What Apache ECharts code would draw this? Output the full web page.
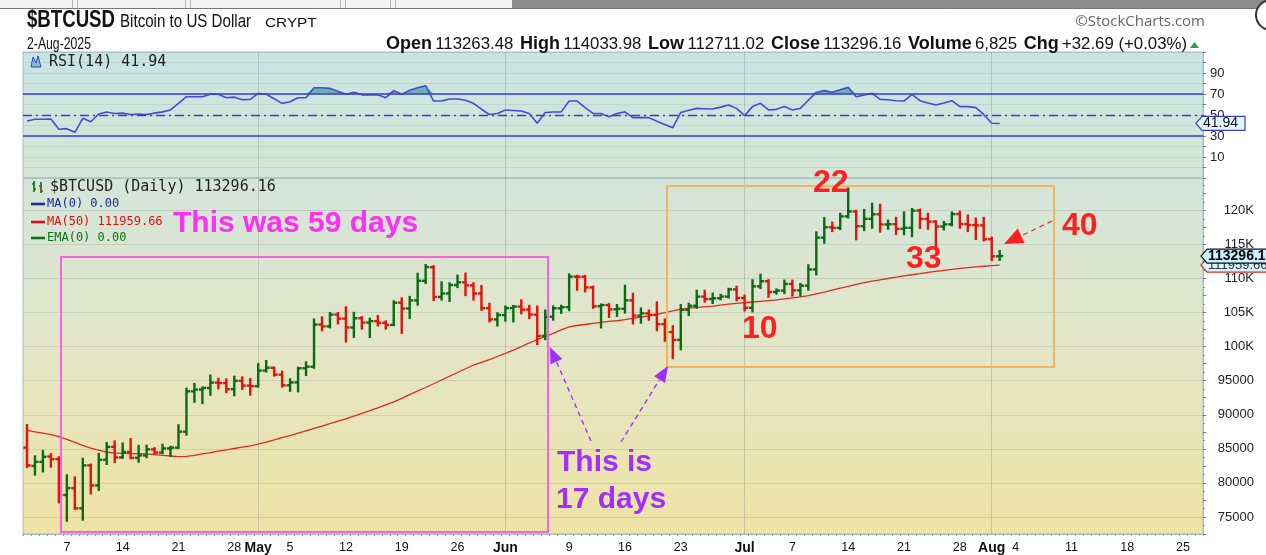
<!DOCTYPE html>
<html><head><meta charset="utf-8">
<script src="https://cdn.jsdelivr.net/npm/echarts@6/dist/echarts.min.js"></script>
<style>html,body{margin:0;padding:0;background:#fff;overflow:hidden}#c{width:1266px;height:555px;}</style>
</head><body><div id="c"></div>
<script>
// ---------------- DATA ----------------
const startDate = '2025-04-02';
const totalDays = 148; // axis runs to 27-Aug

const opens = [
  // Apr 2-30
  85180,82490,83100,83860,83500,78220,79220,76270,82570,79630,
  83400,85290,83740,84540,83670,84030,84920,84450,85060,85170,
  87520,93440,93700,93940,94720,94650,93750,94980,94280,
  // May
  94200,96490,96900,95890,94320,94750,96830,97050,103240,102970,
  104700,104110,102810,104170,103540,103740,103490,103190,106450,105600,
  106790,109670,111670,107290,107800,109040,109440,108990,107800,105640,
  103990,
  // Jun
  104640,105650,105880,105430,104700,101580,104390,105620,105790,110270,
  110260,108690,105930,106100,105470,105550,106790,104550,104880,104660,
  103300,102140,100990,105390,106000,107340,106980,107100,107350,108400,
  // Jul
  107140,105700,108850,109600,108030,108230,109200,108260,108950,111330,
  115990,117520,117430,119120,119840,117680,118760,119420,117930,117970,
  117300,117440,119960,118750,118350,117630,117950,119450,118000,117850,
  117800,
  // Aug
  115760,113263.48
];
const highs = [
  88500,83910,84700,84220,83760,81120,80820,83540,82700,84250,
  85860,86100,85790,86430,85430,85460,85100,85600,85300,88460,
  93830,94530,94000,95760,95300,95200,95600,95500,95230,
  97440,97900,96930,96340,95200,96900,97700,103980,104300,104950,
  104950,105780,104960,104340,104100,104500,103700,106650,107100,107300,
  110700,111980,111800,109440,109300,110420,110720,109300,108900,106300,
  104900,
  105880,105970,106800,105990,105900,105300,105900,106000,110600,110400,
  110390,108800,106200,106250,106100,108950,107750,105600,105300,106500,
  104000,103000,106100,106300,108200,108200,107800,107600,108500,108800,
  107500,109750,110550,109760,108400,109700,109700,109200,111950,116780,
  118870,118200,119500,123200,119950,120060,120980,120830,118500,118900,
  119700,120200,120100,119500,118400,118300,119700,119800,119250,118800,
  118900,
  116000,114033.98
];
const lows = [
  82320,81210,81670,82370,77150,74440,76200,74590,78450,78970,
  82770,83050,83690,83610,83100,83760,84330,84370,83950,85140,
  87080,91900,91710,92920,93880,93330,92850,93780,92940,
  94130,96340,95750,94140,93520,93430,95830,96900,102400,102820,
  103400,100750,101430,102650,101400,103100,102650,103150,102020,104200,
  106150,109330,106850,106900,106700,108740,107560,106900,105400,103700,
  103100,
  103800,103700,104900,104200,100370,101100,103950,104950,105350,108350,
  108100,105700,102800,104350,104500,104990,103400,103500,103950,102400,
  100850,98300,99600,104650,105700,106600,106400,106950,107200,106800,
  105300,105150,108600,107300,107800,107850,107500,107500,108350,110600,
  115250,116950,117250,118950,115740,117100,117450,116870,117300,116550,
  116500,116200,117400,117300,114750,117200,117800,117450,116950,115800,
  115600,
  112700,112711.02
];
const closes = [
  82570,83100,83840,83500,78210,79240,76270,82570,79630,83400,
  85290,83740,84540,83670,84030,84920,84450,85060,85170,87520,
  93440,93700,93940,94720,94650,93750,94980,94280,94200,
  96490,96900,95890,94320,94750,96830,97050,103240,102970,104700,
  104110,102810,104170,103540,103740,103490,103190,106450,105600,106790,
  109670,111670,107290,107800,109040,109440,108990,107800,105640,103990,
  104640,
  105650,105880,105430,104700,101580,104390,105620,105790,110270,110260,
  108690,105930,106100,105470,105550,106790,104550,104880,104660,103300,
  102140,100990,105390,106000,107340,106980,107100,107350,108400,107140,
  105700,108850,109600,108030,108230,109200,108260,108950,111330,115990,
  117520,117430,119120,119840,117680,118760,119420,117930,117970,117300,
  117440,119960,118750,118350,117630,117950,119450,118000,117850,117800,
  115760,
  113263.47,113296.16
];
const ma50 = [
  87700,87500,87300,87100,86800,86400,85950,85500,85100,84800,
  84500,84400,84350,84300,84280,84250,84150,84050,83950,83850,
  83900,84050,84250,84450,84650,84850,85050,85250,85450,85700,
  86000,86300,86650,86950,87300,87650,88000,88350,88700,89050,
  89400,89800,90200,90600,91000,91450,91900,92400,92950,93500,
  94000,94550,95100,95650,96200,96750,97300,97700,98100,98550,
  99000,99500,100000,100550,101050,101500,101950,102450,102900,103100,
  103250,103400,103550,103700,103800,103950,104150,104350,104500,104750,
  105000,105250,105500,105650,105750,105850,105950,106100,106250,106350,
  106450,106550,106650,106750,106850,107000,107150,107300,107500,107750,
  108000,108300,108600,108850,109150,109400,109600,109800,110000,110200,
  110400,110550,110700,110900,111050,111200,111350,111500,111600,111700,
  111800,111880,111959.66
];
const rsi14 = [
  44.3,45.9,46,46.2,36.4,37,33.5,46.8,43.6,51,
  52.9,51.5,51.8,50.5,51,50.5,51.8,53,54.8,61,
  67.4,67.4,67.4,69.7,69.7,66.5,67,64.6,64.9,70.6,
  69.7,65.5,61.1,62.6,66.5,66.5,76,76,75.4,72.5,
  69.7,71.6,69.2,69.4,69.2,66.5,73.2,69.7,73.5,76,
  77.9,63.3,63.3,65.2,65.2,64,61.1,55.5,50.5,51.5,
  54.8,54.3,53.8,51.5,42.1,52.4,52.8,53,63.3,63.3,
  57,51.5,51.5,48.4,51.5,53,47.5,47.5,47.5,44,
  41,37.9,52.4,54.5,56.3,56,55.7,57.5,59.5,56.3,
  49.4,58,61.1,54.8,55.4,58,54.8,56.3,64,71.6,
  73.2,71.6,74,76.3,67.4,69,70.6,64.9,64.5,63.5,
  63.3,69.7,63.6,61.5,59.5,61.5,63.6,58,58,57,
  50.5,42.1,41.94
];
const volumeLast = '6,825';
const monthTicks = {'2025-05-01':'May','2025-06-01':'Jun','2025-07-01':'Jul','2025-08-01':'Aug'};
const dayTicks = {
  '2025-04-07':'7','2025-04-14':'14','2025-04-21':'21','2025-04-28':'28',
  '2025-05-05':'5','2025-05-12':'12','2025-05-19':'19','2025-05-26':'26',
  '2025-06-09':'9','2025-06-16':'16','2025-06-23':'23',
  '2025-07-07':'7','2025-07-14':'14','2025-07-21':'21','2025-07-28':'28',
  '2025-08-04':'4','2025-08-11':'11','2025-08-18':'18','2025-08-25':'25'
};
const priceGridValues = [75000,80000,85000,90000,95000,100000,105000,110000,115000,120000];
const rsiLabelValues = [10,30,50,70,90];
const rsiLevels = {over:70, mid:50, under:30};

// ---------------- BUILD ----------------
const cats = [];
const d0 = new Date(startDate + 'T00:00:00Z');
for (let i = 0; i < totalDays; i++) cats.push(new Date(d0.getTime() + i * 86400000).toISOString().slice(0, 10));
const ohlc = opens.map((o, i) => {
  const prev = i ? closes[i - 1] : o;
  return [i, o, highs[i], lows[i], closes[i], closes[i] >= prev ? 1 : 0];
});
const last = closes.length - 1;
const rsiBase = rsi14.map(() => rsiLevels.over);
const rsiOver = rsi14.map(v => Math.max(0, v - rsiLevels.over));

const GREEN = '#0b6b12', RED = '#e3120b', GRIDC = 'rgba(105,130,120,0.22)', BORDER = '#a6bcc8';
const SANS = "'Liberation Sans',Arial,sans-serif";
const MONO = "'DejaVu Sans Mono',monospace";

function grad(stops) {
  return {type: 'linear', x: 0, y: 0, x2: 0, y2: 1, colorStops: stops.map(s => ({offset: s[0], color: s[1]}))};
}
const monthLines = Object.keys(monthTicks).map(k => ({xAxis: k, lineStyle: {color: 'rgba(120,140,130,0.35)', width: 1, type: 'solid'}}));

function renderOHLC(params, api) {
  const i = api.value(0);
  const pO = api.coord([i, api.value(1)]), pH = api.coord([i, api.value(2)]);
  const pL = api.coord([i, api.value(3)]), pC = api.coord([i, api.value(4)]);
  const col = api.value(5) ? GREEN : RED;
  const w = 3.6, lw = 2.4;
  const st = {stroke: col, lineWidth: lw};
  return {type: 'group', children: [
    {type: 'line', shape: {x1: pH[0], y1: pH[1] - 1, x2: pL[0], y2: pL[1] + 1}, style: st},
    {type: 'line', shape: {x1: pO[0] - w, y1: pO[1], x2: pO[0], y2: pO[1]}, style: st},
    {type: 'line', shape: {x1: pC[0], y1: pC[1], x2: pC[0] + w, y2: pC[1]}, style: st}
  ]};
}

const chart = echarts.init(document.getElementById('c'), null, {renderer: 'canvas'});
const option = {
  animation: false,
  backgroundColor: '#ffffff',
  grid: [
    {left: 23, right: 63, top: 52, height: 126, show: true, borderColor: BORDER, borderWidth: 1,
     backgroundColor: grad([[0, '#c8e4e2'], [1, '#d5e7d6']])},
    {left: 23, right: 63, top: 178, height: 358, show: true, borderColor: BORDER, borderWidth: 1,
     backgroundColor: grad([[0, '#d3e5da'], [0.45, '#e2e6c8'], [1, '#efe3a4']])}
  ],
  xAxis: [
    {type: 'category', gridIndex: 0, data: cats, boundaryGap: true,
     axisLine: {show: false}, axisTick: {show: false}, axisLabel: {show: false}, splitLine: {show: false}},
    {type: 'category', gridIndex: 1, data: cats, boundaryGap: true,
     axisLine: {show: true, lineStyle: {color: BORDER}},
     axisTick: {show: true, interval: 0, length: 2, lineStyle: {color: '#8a9aa0'}},
     axisLabel: {
       interval: (idx, val) => !!(monthTicks[val] || dayTicks[val]),
       formatter: val => monthTicks[val] ? '{m|' + monthTicks[val] + '}' : (dayTicks[val] || ''),
       color: '#111', fontSize: 12.5, fontFamily: SANS, margin: 7,
       rich: {m: {fontWeight: 'bold', fontSize: 14, fontFamily: SANS, color: '#111'}}
     },
     splitLine: {show: false}}
  ],
  yAxis: [
    {type: 'value', gridIndex: 0, position: 'right', min: -10, max: 110, interval: 10,
     axisLine: {show: true, lineStyle: {color: BORDER}},
     axisTick: {show: true, length: 3, lineStyle: {color: '#777'}},
     axisLabel: {formatter: v => rsiLabelValues.indexOf(v) >= 0 ? String(v) : '', color: '#222', fontSize: 13, fontFamily: SANS, margin: 7},
     splitLine: {show: true, lineStyle: {color: 'rgba(105,135,130,0.16)'}}},
    {type: 'value', gridIndex: 1, position: 'right', min: 72500, max: 124750, interval: 2500,
     axisLine: {show: true, lineStyle: {color: BORDER}},
     axisTick: {show: true, length: 3, lineStyle: {color: '#777'}},
     minorTick: {show: true, splitNumber: 2, length: 2, lineStyle: {color: '#999'}},
     axisLabel: {
       formatter: v => (v % 5000 === 0 && v >= 75000 && v <= 120000) ? (v >= 100000 ? (v / 1000) + 'K' : String(v)) : '',
       color: '#222', fontSize: 13, fontFamily: SANS, align: 'right', margin: 51},
     splitLine: {show: false}}
  ],
  series: [
    {type: 'line', xAxisIndex: 0, yAxisIndex: 0, data: rsiBase, stack: 'ob', symbol: 'none',
     lineStyle: {width: 0, opacity: 0}, silent: true, z: 2},
    {type: 'line', xAxisIndex: 0, yAxisIndex: 0, data: rsiOver, stack: 'ob', symbol: 'none',
     lineStyle: {width: 0, opacity: 0}, areaStyle: {color: '#55aaad', opacity: 0.85}, silent: true, z: 2},
    {type: 'line', xAxisIndex: 0, yAxisIndex: 0, data: rsi14, symbol: 'none', z: 4,
     lineStyle: {color: '#4848dc', width: 1.6},
     markLine: {silent: true, symbol: ['none', 'none'], label: {show: false},
       data: monthLines.concat([
         {yAxis: rsiLevels.over, lineStyle: {color: '#3b3bd4', width: 1.6, type: 'solid'}},
         {yAxis: rsiLevels.under, lineStyle: {color: '#3b3bd4', width: 1.6, type: 'solid'}},
         {yAxis: rsiLevels.mid, lineStyle: {color: '#3b3bd4', width: 1.4, type: [9, 4, 2, 4]}}
       ])}},
    {type: 'line', xAxisIndex: 1, yAxisIndex: 1, data: ma50, symbol: 'none', z: 3,
     lineStyle: {color: '#e5281e', width: 1.3},
     markLine: {silent: true, symbol: ['none', 'none'], label: {show: false},
       data: monthLines.concat(priceGridValues.map(v => ({yAxis: v, lineStyle: {color: GRIDC, width: 1, type: 'solid'}})))}},
    {type: 'custom', xAxisIndex: 1, yAxisIndex: 1, data: ohlc, renderItem: renderOHLC,
     encode: {x: 0, y: [1, 2, 3, 4]}, z: 5, clip: true}
  ]
};
chart.setOption(option);

// ---------------- ANNOTATIONS / HEADER ----------------
function arrow(x1, y1, x2, y2, color, hl, hw, lw) {
  const a = Math.atan2(y2 - y1, x2 - x1);
  const bx = x2 - hl * Math.cos(a), by = y2 - hl * Math.sin(a);
  const px = -Math.sin(a) * hw / 2, py = Math.cos(a) * hw / 2;
  return [
    {type: 'line', shape: {x1: x1, y1: y1, x2: bx, y2: by}, style: {stroke: color, lineWidth: lw || 1.4, lineDash: [5, 4]}, z: 50},
    {type: 'polygon', shape: {points: [[x2, y2], [bx + px, by + py], [bx - px, by - py]]}, style: {fill: color}, z: 50}
  ];
}
function txt(x, y, s, font, color, align, extra) {
  return Object.assign({type: 'text', x: x, y: y, z: 60,
    style: {text: s, font: font, fill: color, textAlign: align || 'left', textVerticalAlign: 'middle'}}, extra || {});
}
function axisTag(y, x0, w, label, stroke, fill, font, color, z) {
  const h = 14;
  return [
    {type: 'polygon', z: z, shape: {points: [[x0, y], [x0 + 6, y - h / 2], [x0 + w, y - h / 2], [x0 + w, y + h / 2], [x0 + 6, y + h / 2]]},
     style: {fill: fill, stroke: stroke, lineWidth: 1.2}},
    {type: 'text', z: z + 1, x: x0 + 7, y: y, style: {text: label, font: font, fill: color, textVerticalAlign: 'middle'}}
  ];
}

const yClose = chart.convertToPixel({yAxisIndex: 1}, closes[last]);
const yMA = chart.convertToPixel({yAxisIndex: 1}, ma50[last]);
const yRsi = chart.convertToPixel({yAxisIndex: 0}, rsi14[last]);
const chg = closes[last] - closes[last - 1];
const chgPct = chg / closes[last - 1] * 100;

const PINK = '#ff5fe2', PURPLE = '#a030ff', RED2 = '#ff1f1f', ORANGE = '#f5b35a';
const g = [];
// browser strip
g.push({type: 'rect', shape: {x: 0, y: 0, width: 1266, height: 8}, style: {fill: '#f3f3f3'}, z: 1});
g.push({type: 'rect', shape: {x: 512, y: 0, width: 754, height: 8}, style: {fill: '#8d8d8d'}, z: 1});
g.push({type: 'line', shape: {x1: 0, y1: 8.5, x2: 1266, y2: 8.5}, style: {stroke: '#777', lineWidth: 1}, z: 1});
[72, 77, 185, 190, 340, 345, 390, 395].forEach(x => g.push({type: 'line', shape: {x1: x + 0.5, y1: 0, x2: x + 0.5, y2: 8}, style: {stroke: '#b5b5b5', lineWidth: 1}, z: 1}));
g.push({type: 'circle', shape: {cx: 1271, cy: 15, r: 15}, style: {fill: '#fff', stroke: '#333', lineWidth: 2}, z: 1});
// header
g.push(txt(27, 21, '$BTCUSD', 'bold 23px ' + SANS, '#111', 'left', {scaleX: 0.81}));
g.push(txt(120, 22, 'Bitcoin to US Dollar', '18px ' + SANS, '#111', 'left', {scaleX: 0.84}));
g.push(txt(265, 23, 'CRYPT', '13px ' + SANS, '#111', 'left', {scaleX: 1.18}));
g.push(txt(27, 44, '2-Aug-2025', '17px ' + SANS, '#111', 'left', {scaleX: 0.72}));
g.push(txt(1205, 22, '\u00A9StockCharts.com', '15px ' + "'Open Sans',sans-serif", '#666', 'right'));
g.push({type: 'text', x: 1187, y: 44, z: 60, style: {
  text: '{b|Open} {v|' + opens[last].toFixed(2) + '}  {b|High} {v|' + highs[last].toFixed(2) + '}  {b|Low} {v|' + lows[last].toFixed(2) +
        '}  {b|Close} {v|' + closes[last].toFixed(2) + '}  {b|Volume} {v|' + volumeLast + '}  {b|Chg} {v|+' + chg.toFixed(2) + ' (+' + chgPct.toFixed(2) + '%)}',
  textAlign: 'right', textVerticalAlign: 'middle',
  rich: {b: {font: 'bold 18px ' + SANS, fill: '#111'}, v: {font: '16.8px ' + SANS, fill: '#111'}}}});
g.push({type: 'polygon', shape: {points: [[1190, 48], [1194.5, 42], [1199, 48]]}, style: {fill: '#2f9d3a'}, z: 60});
// RSI legend
g.push({type: 'polygon', shape: {points: [[31, 67], [33, 57], [36, 63], [38, 56], [41, 67]]}, style: {fill: '#7cc4c2', stroke: '#3b3bd4', lineWidth: 1}, z: 60});
g.push(txt(49, 62, 'RSI(14) ' + rsi14[last].toFixed(2), '15px ' + MONO, '#222'));
// price legend
g.push({type: 'line', shape: {x1: 34, y1: 181, x2: 34, y2: 192}, style: {stroke: GREEN, lineWidth: 1.6}, z: 60});
g.push({type: 'line', shape: {x1: 32, y1: 184, x2: 34, y2: 184}, style: {stroke: GREEN, lineWidth: 1.6}, z: 60});
g.push({type: 'line', shape: {x1: 34, y1: 189, x2: 36, y2: 189}, style: {stroke: GREEN, lineWidth: 1.6}, z: 60});
g.push({type: 'line', shape: {x1: 41, y1: 182, x2: 41, y2: 193}, style: {stroke: GREEN, lineWidth: 1.6}, z: 60});
g.push({type: 'line', shape: {x1: 39, y1: 186, x2: 41, y2: 186}, style: {stroke: RED, lineWidth: 1.6}, z: 60});
g.push({type: 'line', shape: {x1: 41, y1: 191, x2: 43, y2: 191}, style: {stroke: RED, lineWidth: 1.6}, z: 60});
g.push(txt(50, 187, '$BTCUSD (Daily) ' + closes[last].toFixed(2), '15px ' + MONO, '#222'));
[[204, '#1c2c9c', 'MA(0) 0.00'], [222, '#e01010', 'MA(50) ' + ma50[last].toFixed(2)], [238, '#117011', 'EMA(0) 0.00']].forEach(r => {
  g.push({type: 'line', shape: {x1: 31, y1: r[0], x2: 45, y2: r[0]}, style: {stroke: r[1], lineWidth: 2.6}, z: 60});
  g.push(txt(47, r[0], r[2], '12px ' + MONO, r[1]));
});
// annotation boxes
g.push({type: 'rect', shape: {x: 61, y: 257, width: 487, height: 275}, style: {fill: 'none', stroke: PINK, lineWidth: 2}, z: 40});
g.push({type: 'rect', shape: {x: 667, y: 186, width: 387, height: 181}, style: {fill: 'none', stroke: ORANGE, lineWidth: 2}, z: 40});
// annotation texts
g.push(txt(173, 224, 'This was 59 days', 'bold 30px ' + SANS, '#ff30f5'));
g.push(txt(557, 463, 'This is', 'bold 30px ' + SANS, PURPLE));
g.push(txt(556, 500, '17 days', 'bold 30px ' + SANS, PURPLE));
g.push(txt(813, 183, '22', 'bold 32px ' + SANS, RED2));
g.push(txt(906, 259, '33', 'bold 32px ' + SANS, RED2));
g.push(txt(742, 329, '10', 'bold 32px ' + SANS, RED2));
g.push(txt(1062, 226, '40', 'bold 32px ' + SANS, RED2));
// arrows
arrow(591, 441, 550, 347, PURPLE, 16, 13).forEach(e => g.push(e));
arrow(621, 442, 668, 366, PURPLE, 16, 13).forEach(e => g.push(e));
arrow(1052, 221, 1004, 244, RED2, 19, 16, 1.2).forEach(e => g.push(e));
// axis tags
axisTag(yMA, 1201, 70, ma50[last].toFixed(2), '#e5281e', '#d4f4ff', '13px ' + SANS, '#333', 70).forEach(e => g.push(e));
axisTag(yClose, 1201, 70, closes[last].toFixed(2), '#111', '#c9f1ff', 'bold 14px ' + SANS, '#000', 72).forEach(e => g.push(e));
axisTag(yRsi, 1196, 49, rsi14[last].toFixed(2), '#3b3bd4', '#e3f7ff', '14px ' + SANS, '#111', 72).forEach(e => g.push(e));

chart.setOption({graphic: {elements: g}});
</script></body></html>
